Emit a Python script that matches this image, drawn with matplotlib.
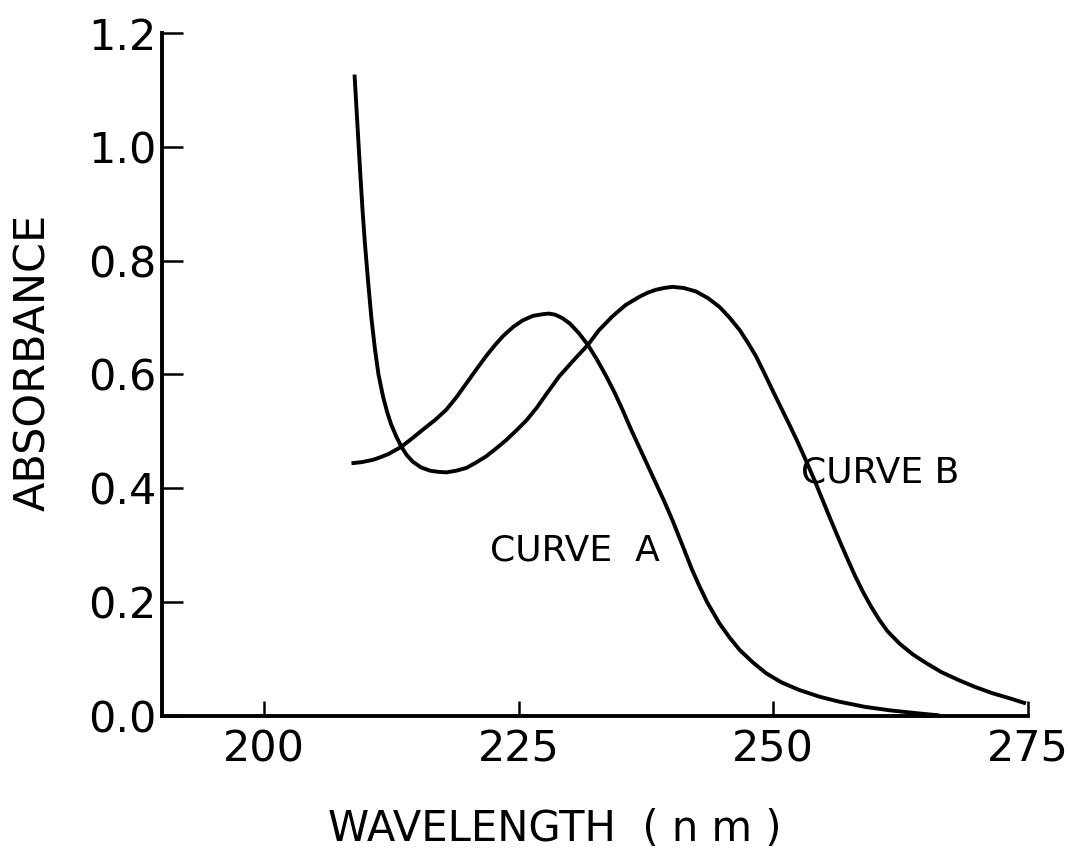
import matplotlib
matplotlib.use("Agg")
import matplotlib.pyplot as plt

# Curve A (wavelength nm, absorbance)
wl_a = [208.6, 209.6, 210.7, 211.5, 212.2, 213.5, 214.5, 215.6, 216.8, 217.9,
        218.9, 219.9, 220.9, 221.8, 222.7, 223.5, 224.5, 225.4, 226.4, 227.4,
        228.0, 228.6, 229.3, 230.0, 230.9, 231.8, 232.7, 233.6, 234.4, 235.2,
        236.0, 236.9, 237.7, 238.5, 239.3, 240.1, 241.1, 242.0, 242.7, 243.5,
        244.7, 245.7, 246.7, 248.0, 249.3, 250.8, 252.5, 254.5, 256.5, 259.0,
        261.4, 264.0, 266.3]
abs_a = [0.444, 0.446, 0.450, 0.455, 0.460, 0.473, 0.487, 0.503, 0.520, 0.538,
         0.560, 0.585, 0.610, 0.632, 0.652, 0.668, 0.684, 0.695, 0.703, 0.706,
         0.707, 0.705, 0.699, 0.690, 0.673, 0.652, 0.626, 0.597, 0.569, 0.538,
         0.505, 0.470, 0.439, 0.408, 0.377, 0.344, 0.299, 0.258, 0.230, 0.200,
         0.163, 0.138, 0.116, 0.094, 0.075, 0.059, 0.046, 0.034, 0.025, 0.016,
         0.010, 0.005, 0.001]

# Curve B
wl_b = [208.9, 209.18, 209.44, 209.68, 209.92, 210.2, 210.55, 210.9, 211.25, 211.7,
        212.1, 212.5, 213.0, 213.5, 214.0, 214.6, 215.4, 216.3, 217.1, 217.9,
        218.9, 219.9, 220.8, 221.8, 222.8, 223.8, 224.8, 225.8, 226.8, 227.7,
        229.0, 230.4, 231.8, 232.9, 234.2, 235.5, 236.9, 237.7, 238.5, 239.3,
        240.1, 241.2, 242.4, 243.6, 244.7, 245.7, 246.7, 247.5, 248.3, 249.1,
        249.9, 250.8, 251.6, 252.4, 253.2, 254.0, 254.8, 255.6, 256.4, 257.2,
        258.0, 258.8, 259.6, 260.4, 261.2, 262.4, 263.7, 265.0, 266.5, 268.2,
        269.8, 271.5, 273.2, 274.8]
abs_b = [1.127, 1.040, 0.960, 0.890, 0.830, 0.770, 0.700, 0.645, 0.600, 0.561,
         0.534, 0.512, 0.491, 0.473, 0.459, 0.447, 0.437, 0.431, 0.429, 0.428,
         0.431, 0.436, 0.445, 0.456, 0.470, 0.485, 0.502, 0.520, 0.542, 0.565,
         0.597, 0.625, 0.652, 0.678, 0.702, 0.722, 0.737, 0.744, 0.749, 0.752,
         0.754, 0.752, 0.746, 0.734, 0.719, 0.700, 0.678, 0.656, 0.632, 0.603,
         0.573, 0.540, 0.511, 0.481, 0.449, 0.416, 0.381, 0.346, 0.312, 0.279,
         0.247, 0.218, 0.192, 0.169, 0.149, 0.127, 0.108, 0.093, 0.077, 0.063,
         0.051, 0.040, 0.031, 0.022]

x_ticks = [200, 225, 250, 275]
y_ticks = [0.0, 0.2, 0.4, 0.6, 0.8, 1.0, 1.2]
y_tick_labels = ["0.0", "0.2", "0.4", "0.6", "0.8", "1.0", "1.2"]

plt.rcParams['font.family'] = ['DejaVu Sans']

fig = plt.figure(figsize=(10.69, 8.55), dpi=100)
ax = fig.add_axes([0.1515, 0.1626, 0.8102, 0.7988])

for wl, ab in [(wl_a, abs_a), (wl_b, abs_b)]:
    ax.plot(wl, ab, color='black', lw=2.8, solid_capstyle='butt',
            solid_joinstyle='round')

ax.set_xlim(190, 275)
ax.set_ylim(0, 1.2)
for s in ['top', 'right']:
    ax.spines[s].set_visible(False)
for s in ['left', 'bottom']:
    ax.spines[s].set_linewidth(2.8)

ax.set_xticks(x_ticks)
ax.set_yticks(y_ticks)
ax.set_yticklabels(y_tick_labels)
ax.tick_params(axis='x', direction='in', length=11, width=1.8, labelsize=31, pad=9)
ax.tick_params(axis='y', direction='in', length=15, width=1.8, labelsize=31, pad=4)

ax.set_xlabel("WAVELENGTH  ( n m )", fontsize=30)
ax.xaxis.set_label_coords(0.454, -0.135)
ax.set_ylabel("ABSORBANCE", fontsize=31)
ax.yaxis.set_label_coords(-0.125, 0.518)

ax.text(222.2, 0.274, "CURVE  A", fontsize=26, va='baseline', ha='left')
ax.text(252.7, 0.411, "CURVE B", fontsize=26, va='baseline', ha='left')

fig.savefig("out.png", dpi=100)
